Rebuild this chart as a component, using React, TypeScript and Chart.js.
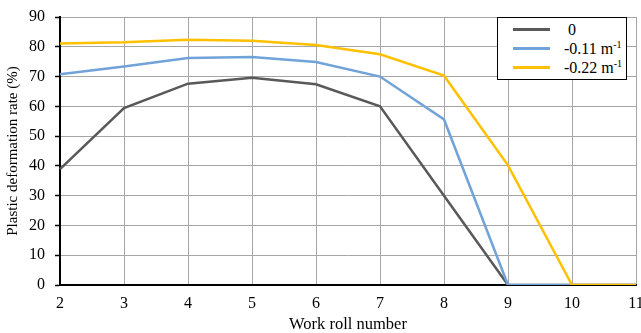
import React, { useEffect, useRef } from "react";
import { Chart, registerables } from "chart.js";

Chart.register(...registerables);

const rollNumbers = ["2", "3", "4", "5", "6", "7", "8", "9", "10", "11"];
const series0 = [38.9, 59.4, 67.6, 69.6, 67.4, 60.0, 30.0, 0, 0, 0];
const series011 = [70.8, 73.4, 76.2, 76.6, 74.9, 70.0, 55.6, 0, 0, 0];
const series022 = [81.1, 81.5, 82.4, 82.0, 80.6, 77.5, 70.3, 40.2, 0, 0];
const yTicks = [0, 10, 20, 30, 40, 50, 60, 70, 80, 90];

const colors = ["#595959", "#72a3d8", "#ffc000"];
const FONT = "'Liberation Serif', 'Times New Roman', serif";

export default function App() {
  const ref = useRef<HTMLCanvasElement | null>(null);

  useEffect(() => {
    document.body.style.margin = "0";
    const ctx = ref.current!;
    const chart = new Chart(ctx, {
      type: "line",
      data: {
        labels: rollNumbers,
        datasets: [
          { label: "0", data: series0, borderColor: colors[0], backgroundColor: colors[0], borderWidth: 2.5, pointRadius: 0, order: 3, tension: 0 },
          { label: "-0.11 m-1", data: series011, borderColor: colors[1], backgroundColor: colors[1], borderWidth: 2.5, pointRadius: 0, order: 2, tension: 0 },
          { label: "-0.22 m-1", data: series022, borderColor: colors[2], backgroundColor: colors[2], borderWidth: 2.5, pointRadius: 0, order: 1, tension: 0 },
        ],
      },
      options: {
        animation: false,
        responsive: false,
        maintainAspectRatio: false,
        layout: { padding: { top: 17, right: 5, left: 0, bottom: 0 } },
        plugins: { legend: { display: false }, tooltip: { enabled: false } },
        scales: {
          x: {
            type: "category",
            offset: false,
            grid: { color: "#a6a6a6", lineWidth: 1, drawTicks: false },
            border: { color: "#000", width: 2 },
            ticks: { color: "#000", font: { family: FONT, size: 16 }, padding: 9, maxRotation: 0, autoSkip: false },
            title: { display: true, text: "Work roll number", color: "#000", font: { family: FONT, size: 16.5, lineHeight: 1 }, padding: { top: 0, bottom: 0 } },
            afterFit: (s: any) => { s.height = 48; s.paddingLeft = 0; s.paddingRight = 0; },
          },
          y: {
            min: 0,
            max: 90,
            afterBuildTicks: (s: any) => { s.ticks = yTicks.map((v) => ({ value: v })); },
            grid: { color: "#a6a6a6", lineWidth: 1, tickLength: 5, tickColor: "#000", tickWidth: 1.5 },
            border: { color: "#000", width: 2 },
            ticks: { color: "#000", font: { family: FONT, size: 16 }, padding: 10 },
            title: { display: true, text: "Plastic deformation rate (%)", color: "#000", font: { family: FONT, size: 15 }, padding: { top: 4, bottom: 0 } },
            afterFit: (s: any) => { s.width = 60; s.paddingTop = 0; s.paddingBottom = 0; },
          },
        },
      },
    });
    return () => chart.destroy();
  }, []);

  const legendItems = [
    { color: colors[0], text: <span style={{ paddingLeft: 4 }}>0</span> },
    { color: colors[1], text: <span>-0.11 m<sup style={{ fontSize: 10, verticalAlign: 6, lineHeight: 0 }}>-1</sup></span> },
    { color: colors[2], text: <span>-0.22 m<sup style={{ fontSize: 10, verticalAlign: 6, lineHeight: 0 }}>-1</sup></span> },
  ];

  return (
    <div style={{ position: "relative", width: 641, height: 333, background: "#fff" }}>
      <canvas ref={ref} width={641} height={333} style={{ display: "block", width: 641, height: 333 }} />
      <div
        style={{
          position: "absolute",
          left: 497,
          top: 17,
          width: 128,
          height: 59,
          border: "1.5px solid #000",
          background: "#fff",
          fontFamily: FONT,
          fontSize: 16,
          color: "#000",
          paddingTop: 2,
          boxSizing: "content-box",
        }}
      >
        {legendItems.map((it, i) => (
          <div key={i} style={{ display: "flex", alignItems: "center", height: 19 }}>
            <div style={{ marginLeft: 15, width: 37, height: 3, background: it.color }} />
            <div style={{ marginLeft: 14, whiteSpace: "nowrap" }}>{it.text}</div>
          </div>
        ))}
      </div>
    </div>
  );
}
